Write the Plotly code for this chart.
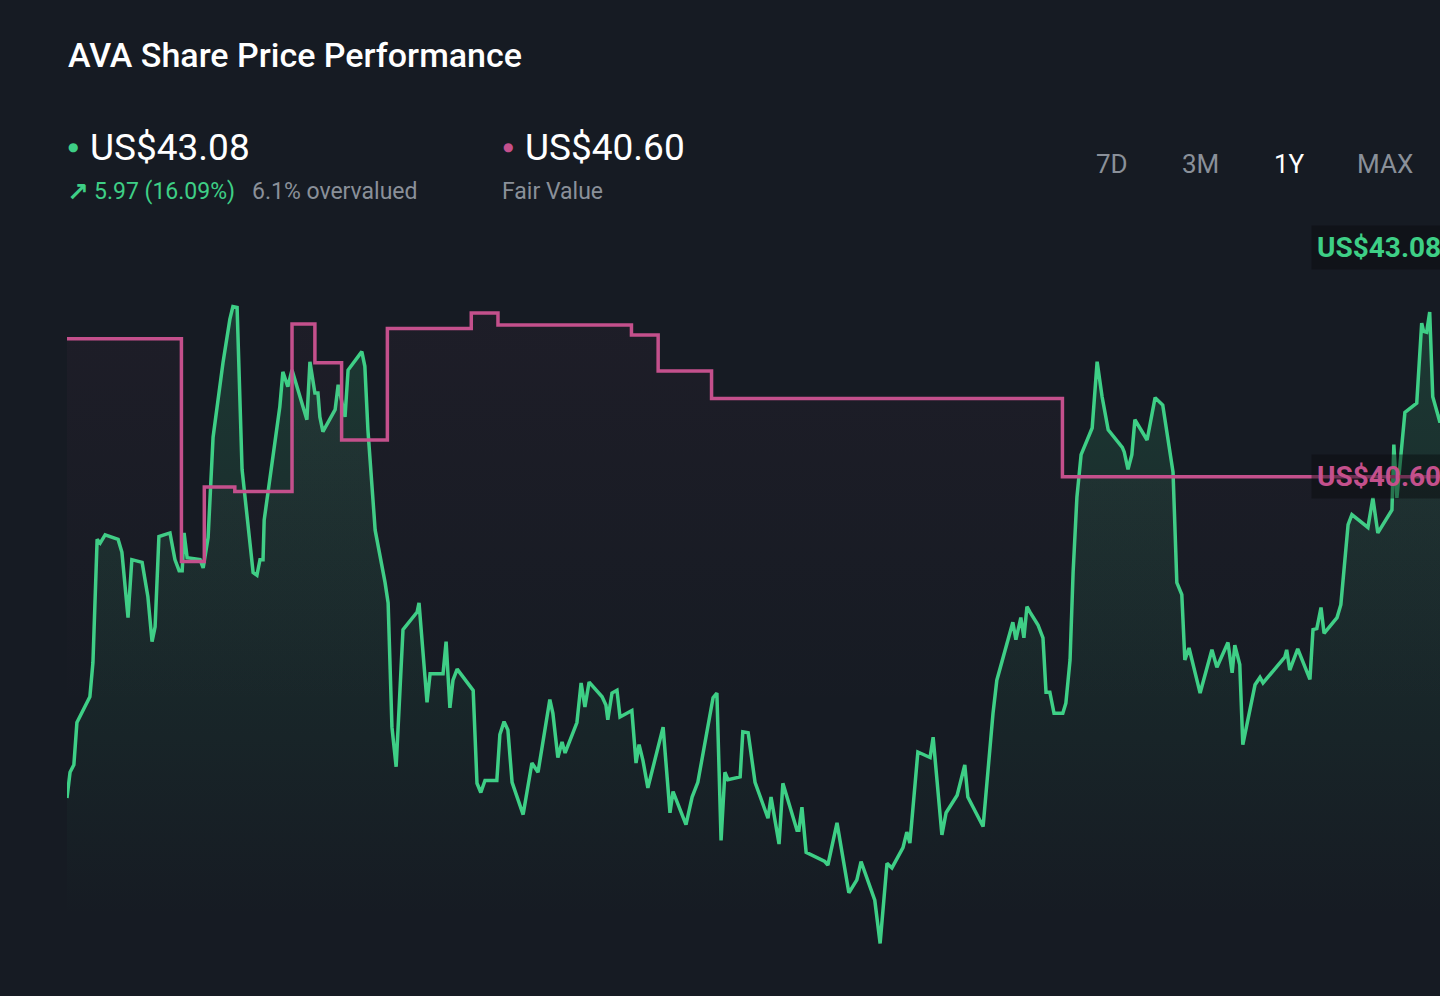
# AVA share price vs fair value, 1Y view (dark card style)

import plotly.graph_objects as go

# Share price, days since start of the 1Y window
price_days = [
    0, 0.8, 1.8, 2.6, 6.0, 6.8, 7.9, 8.7, 10.0, 13.4, 14.4, 16.0, 17.0, 19.7, 21.2, 22.3,
    23.1, 24.1, 27.0, 28.3, 29.4, 30.2, 30.7, 31.5, 34.9, 35.7, 37.0, 38.3, 40.9, 42.7,
    43.5, 44.6, 45.9, 48.8, 49.8, 50.6, 51.4, 51.7, 55.8, 56.6, 57.9, 59.0, 62.9, 63.7,
    65.0, 65.8, 66.3, 67.1, 70.3, 71.1, 72.9, 73.7, 77.3, 78.1, 78.9, 80.8, 83.4, 84.2,
    85.2, 86.3, 88.1, 91.8, 92.3, 94.4, 95.2, 98.6, 99.4, 100.4, 101.2, 102.3, 106.5,
    107.5, 108.5, 109.6, 112.7, 113.5, 114.6, 115.6, 116.7, 119.6, 121.9, 123.5, 126.6,
    127.4, 128.7, 129.8, 130.6, 133.7, 134.8, 135.8, 136.9, 140.3, 141.3, 141.8, 142.9,
    144.2, 145.0, 148.1, 149.2, 150.0, 151.0, 152.3, 156.3, 158.1, 158.9, 162.3, 163.9,
    165.4, 169.4, 170.4, 171.5, 172.5, 173.3, 176.5, 177.2, 178.6, 180.4, 183.8, 184.6,
    186.7, 187.7, 191.4, 191.9, 192.7, 193.8, 198.7, 199.5, 201.9, 205.0, 207.1, 208.2,
    211.8, 213.2, 215.0, 216.3, 219.2, 220.2, 221.0, 223.1, 226.3, 227.1, 229.4, 230.5,
    233.4, 235.4, 236.2, 240.2, 242.8, 243.8, 246.7, 248.0, 248.8, 250.1, 250.9, 251.7,
    252.5, 254.6, 255.9, 256.7, 257.7, 258.8, 261.1, 261.9, 263.0, 263.8, 264.8, 265.9,
    268.8, 270.1, 271.4, 273.0, 276.7, 277.2, 278.2, 279.2, 280.0, 283.2, 285.3, 287.3,
    290.0, 291.0, 292.3, 293.1, 294.2, 297.1, 300.2, 301.5, 304.4, 305.5, 306.2, 307.5,
    308.3, 311.5, 312.8, 313.6, 319.3, 319.8, 320.6, 322.7, 325.9, 326.7, 327.7, 328.8,
    329.6, 333.0, 334.0, 335.9, 336.9, 341.1, 342.4, 343.7, 347.4, 347.9, 348.7, 350.8,
    353.9, 355.2, 355.7, 356.5, 357.3, 358.1, 360.0, 362.0, 364.0, 366.0,
]
price_values = [
    37.11, 37.39, 37.47, 37.93, 38.21, 38.58, 39.92, 39.88, 39.97, 39.92, 39.78, 39.07,
    39.70, 39.67, 39.30, 38.81, 38.97, 39.95, 39.99, 39.70, 39.58, 39.58, 39.99, 39.72,
    39.70, 39.61, 39.94, 41.03, 41.84, 42.31, 42.45, 42.44, 40.68, 39.56, 39.53, 39.70,
    39.70, 40.13, 41.36, 41.74, 41.58, 41.76, 41.22, 41.85, 41.51, 41.51, 41.25, 41.09,
    41.33, 41.60, 41.25, 41.76, 41.96, 41.80, 41.11, 40.02, 39.45, 39.23, 37.88, 37.45,
    38.94, 39.13, 39.23, 38.15, 38.46, 38.46, 38.81, 38.09, 38.39, 38.51, 38.28, 37.27,
    37.17, 37.30, 37.30, 37.80, 37.94, 37.85, 37.28, 36.93, 37.49, 37.39, 38.18, 38.03,
    37.55, 37.72, 37.60, 37.93, 38.36, 38.10, 38.37, 38.21, 38.12, 37.96, 38.25, 38.28,
    37.99, 38.06, 37.49, 37.69, 37.52, 37.22, 37.88, 36.95, 37.18, 36.82, 37.12, 37.28,
    38.20, 38.25, 36.65, 37.39, 37.31, 37.34, 37.83, 37.82, 37.28, 36.89, 37.12, 36.61,
    37.27, 36.76, 36.76, 37.01, 36.52, 36.42, 36.38, 36.84, 36.08, 36.22, 36.42, 36.00,
    35.53, 36.40, 36.35, 36.57, 36.74, 36.62, 37.61, 37.55, 37.77, 36.71, 36.95, 37.14,
    37.47, 37.12, 36.80, 38.03, 38.39, 38.83, 39.02, 38.83, 39.07, 38.85, 39.19, 39.13,
    38.99, 38.85, 38.26, 38.26, 38.03, 38.03, 38.14, 38.61, 39.56, 40.38, 40.84, 41.13,
    41.85, 41.47, 41.11, 40.92, 40.87, 40.68, 40.84, 41.22, 41.00, 41.46, 41.38, 40.65,
    39.45, 39.32, 38.61, 38.74, 38.25, 38.72, 38.53, 38.80, 38.47, 38.77, 38.56, 37.69,
    38.34, 38.42, 38.36, 38.64, 38.72, 38.50, 38.73, 38.40, 38.94, 38.95, 39.18, 38.90,
    39.07, 39.21, 40.08, 40.19, 40.05, 40.37, 39.99, 40.24, 40.95, 40.37, 41.30, 41.40,
    42.27, 42.18, 42.17, 42.39, 41.47, 41.19, 41.60, 42.40, 43.08,
]

# Analyst fair value (step changes)
fv_days = [0, 30, 36, 44, 59, 65, 72, 84, 106, 113, 148, 155, 169, 261, 366]
fv_values = [42.10, 39.68, 40.49, 40.44, 42.26, 41.84, 41.00, 42.21, 42.38, 42.25,
             42.14, 41.75, 41.45, 40.60, 40.60]

last_price = 43.08
fair_value = 40.60

BG = "#161b23"
GREEN = "#3ecf86"
PINK = "#c4508c"
GREY = "#8a9099"

W, H = 1440, 996
L, T, B = 67, 220, 36
plot_w = W - L
plot_h = H - T - B


def px(x):
    return (x - L) / plot_w


def py(y):
    return (H - B - y) / plot_h


fig = go.Figure()

fig.add_trace(go.Scatter(
    x=price_days, y=price_values, mode="lines",
    line=dict(color=GREEN, width=3.5),
    fill="tozeroy",
    fillgradient=dict(type="vertical", start=35.8, stop=42.5,
                      colorscale=[[0, "rgba(62,207,134,0)"], [1, "rgba(62,207,134,0.17)"]]),
    hoverinfo="skip",
))

fig.add_trace(go.Scatter(
    x=fv_days, y=fv_values, mode="lines",
    line=dict(color=PINK, width=3.5, shape="hv"),
    fill="tozeroy",
    fillgradient=dict(type="vertical", start=38.0, stop=42.4,
                      colorscale=[[0, "rgba(196,80,140,0)"], [1, "rgba(196,80,140,0.045)"]]),
    hoverinfo="skip",
))

ann = []
ann.append(dict(text="AVA Share Price Performance", x=px(66), y=py(55),
                xanchor="left", yanchor="middle",
                font=dict(family="Roboto", size=34, color="white", weight=500)))

# header values
ann.append(dict(text="●", x=px(66), y=py(147), xanchor="left", yanchor="middle",
                font=dict(family="DejaVu Sans", size=12, color=GREEN)))
ann.append(dict(text=f"US${last_price:.2f}", x=px(88), y=py(147), xanchor="left", yanchor="middle",
                font=dict(family="Roboto", size=37, color="white")))
ann.append(dict(text="↗", x=px(65), y=py(192), xanchor="left", yanchor="middle",
                font=dict(family="DejaVu Sans", size=26, color=GREEN, weight=700)))
ann.append(dict(text="5.97 (16.09%)", x=px(92), y=py(192), xanchor="left", yanchor="middle",
                font=dict(family="Roboto", size=23, color=GREEN)))
ann.append(dict(text="6.1% overvalued", x=px(250), y=py(192), xanchor="left", yanchor="middle",
                font=dict(family="Roboto", size=23, color=GREY)))
ann.append(dict(text="●", x=px(501), y=py(147), xanchor="left", yanchor="middle",
                font=dict(family="DejaVu Sans", size=12, color=PINK)))
ann.append(dict(text=f"US${fair_value:.2f}", x=px(523), y=py(147), xanchor="left", yanchor="middle",
                font=dict(family="Roboto", size=37, color="white")))
ann.append(dict(text="Fair Value", x=px(500), y=py(192), xanchor="left", yanchor="middle",
                font=dict(family="Roboto", size=23, color=GREY)))

# period selector
for label, cx in [("7D", 1112), ("3M", 1200), ("1Y", 1289), ("MAX", 1385)]:
    ann.append(dict(text=label, x=px(cx), y=py(164), xanchor="center", yanchor="middle",
                    font=dict(family="Roboto", size=26, color="white" if label == "1Y" else GREY)))

# right-hand value tags
ann.append(dict(text=f"US${last_price:.2f}", x=px(1311), y=py(248), xanchor="left", yanchor="middle",
                bgcolor="rgba(8,10,14,0.45)", borderpad=5,
                font=dict(family="Roboto", size=28, color=GREEN, weight=700)))
ann.append(dict(text=f"US${fair_value:.2f}", x=px(1311), y=fair_value, yref="y",
                xanchor="left", yanchor="middle",
                bgcolor="rgba(8,10,14,0.45)", borderpad=5,
                font=dict(family="Roboto", size=28, color=PINK, weight=700)))

for a in ann:
    a.setdefault("xref", "paper")
    a.setdefault("yref", "paper")
    a["showarrow"] = False

fig.update_layout(
    width=W,
    height=H,
    margin=dict(l=L, r=0, t=T, b=B),
    paper_bgcolor=BG,
    plot_bgcolor=BG,
    showlegend=False,
    xaxis=dict(range=[0, 360], visible=False, fixedrange=True),
    yaxis=dict(range=[35.35, 43.39], visible=False, fixedrange=True),
    annotations=ann,
)

fig.write_html("out.html", config={"displayModeBar": False},
               post_script="document.body.style.margin='0';document.body.style.background='%s';" % BG)
